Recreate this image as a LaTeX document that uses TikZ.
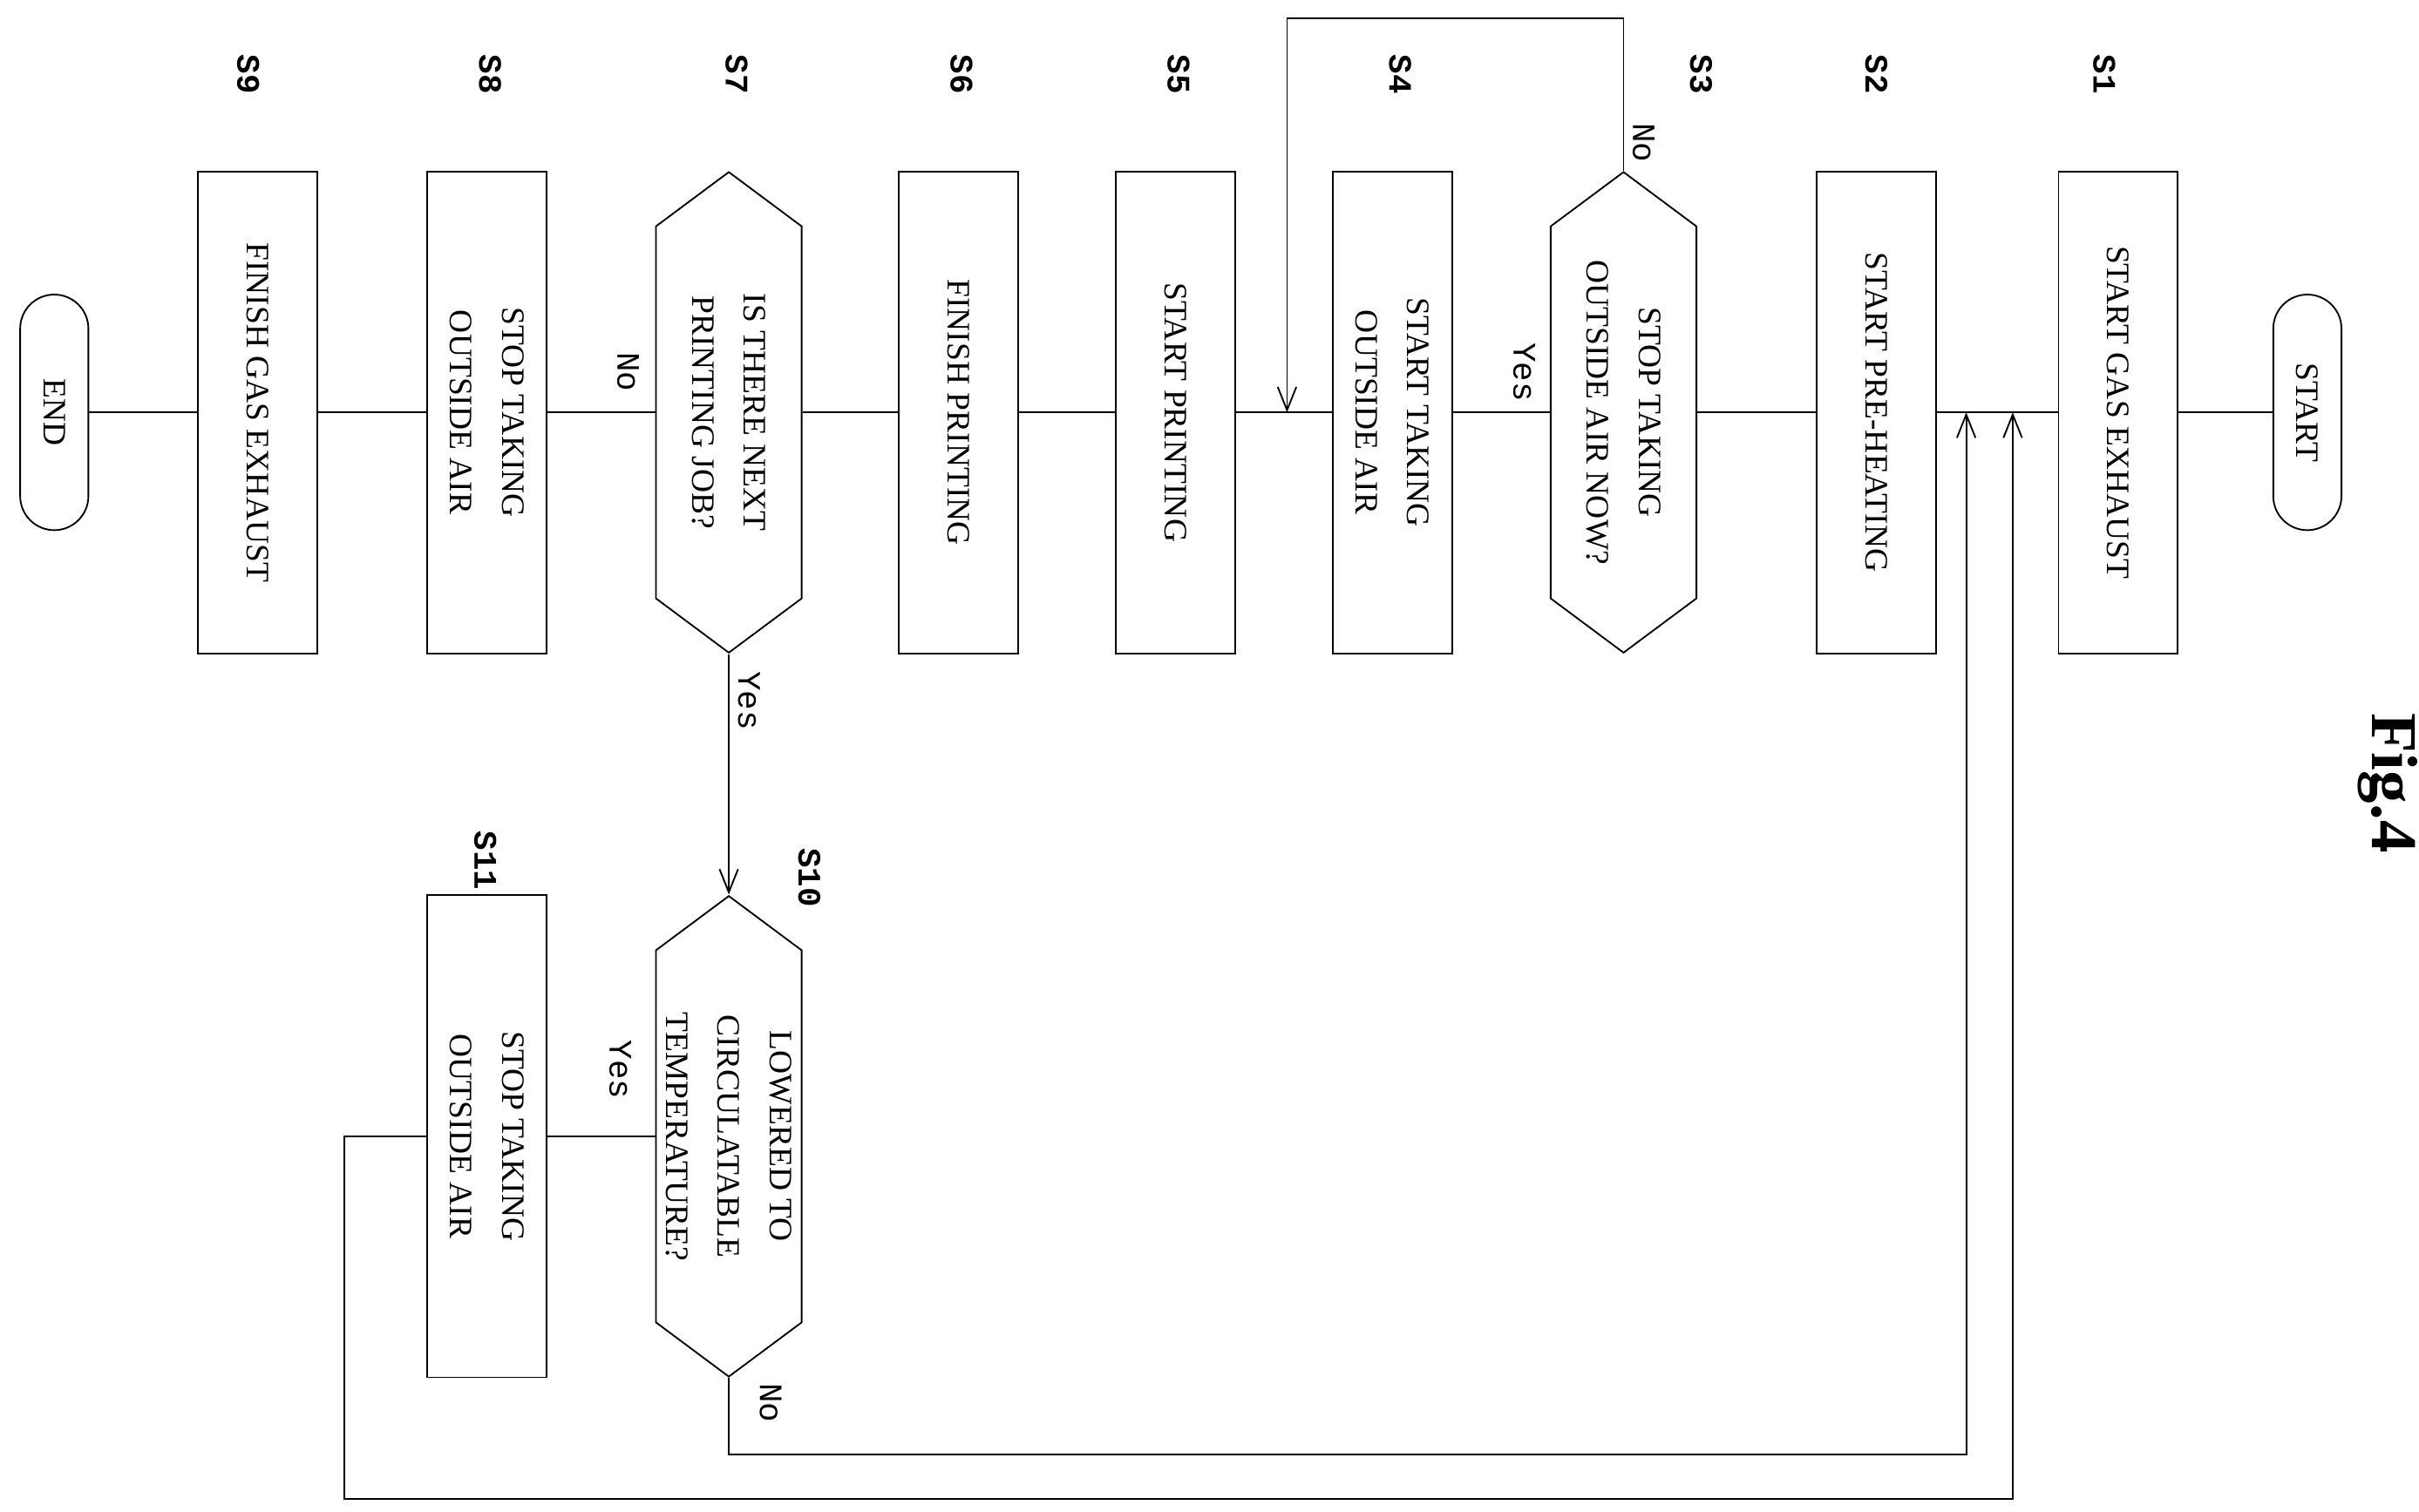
\documentclass[tikz,border=0pt]{standalone}
\usepackage{fontspec}
\setmainfont{Liberation Serif}
\setmonofont{Liberation Mono}
\usetikzlibrary{positioning,arrows.meta}
\tikzset{
  every node/.style={inner sep=0pt},
  box/.style={draw, rotate=-90, minimum width=6.22cm, minimum height=1.54cm,
    align=center, font=\fontsize{12}{19}\selectfont},
  choice/.style={rotate=-90, minimum width=6.22cm, minimum height=1.88cm,
    align=center, font=\fontsize{12}{19}\selectfont},
  term/.style={draw, rotate=-90, rounded corners=0.44cm, minimum width=3.04cm,
    minimum height=0.88cm, font=\fontsize{12}{14}\selectfont},
  tag/.style={rotate=-90, font=\ttfamily\bfseries\fontsize{12}{14}\selectfont},
  flow/.style={-{Straight Barb[length=3mm,width=2.4mm]}},
}
\newcommand{\hexa}[1]{%
  \draw ([shift={(0,-155)}]#1.center) -- ([shift={(47,-120)}]#1.center)
    -- ([shift={(47,120)}]#1.center) -- ([shift={(0,155)}]#1.center)
    -- ([shift={(-47,120)}]#1.center) -- ([shift={(-47,-120)}]#1.center) -- cycle;}
\begin{document}
\begin{tikzpicture}[x=0.02cm,y=-0.02cm, line width=0.6pt]
\useasboundingbox (0,0) rectangle (1560,975);
% main row
\node[term] (start) at (1488,266) {START};
\node[box] (s1) at (1366,266) {START GAS EXHAUST};
\node[box] (s2) at (1210,266) {START PRE-HEATING};
\node[choice] (s3) at (1047,266) {STOP TAKING\\OUTSIDE AIR NOW?};
\hexa{s3}
\node[box] (s4) at (898,266) {START TAKING\\OUTSIDE AIR};
\node[box] (s5) at (758,266) {START PRINTING};
\node[box] (s6) at (618,266) {FINISH PRINTING};
\node[choice] (s7) at (470,266) {IS THERE NEXT\\PRINTING JOB?};
\hexa{s7}
\node[box] (s8) at (314,266) {STOP TAKING\\OUTSIDE AIR};
\node[box] (s9) at (166,266) {FINISH GAS EXHAUST};
\node[term] (end) at (35,266) {END};
% lower row
\node[choice] (s10) at (470,733) {LOWERED TO\\CIRCULATABLE\\TEMPERATURE?};
\hexa{s10}
\node[box] (s11) at (314,733) {STOP TAKING\\OUTSIDE AIR};
% step tags
\foreach \n/\x in {1/1357,2/1210,3/1097,4/903,5/760,6/620,7/475,8/316,9/160}
  \node[tag] (t\n) at (\x,48) {S\n};
\node[tag] (t10) at (522,566) {S10};
\node[tag] (t11) at (313,555) {S11};
\node[rotate=-90, font=\bfseries\fontsize{24}{28}\selectfont] (fig) at (1540,505) {Fig.4};
% joints
\coordinate (j1) at (1268,266);
\coordinate (j2) at (1298,266);
\coordinate (j3) at (830,266);
% connectors
\draw (start) -- (s1);
\draw (s1) -- (s2);
\draw (s2) -- (s3);
\draw (s3) -- (s4);
\draw (s4) -- (s5);
\draw (s5) -- (s6);
\draw (s6) -- (s7);
\draw (s7) -- (s8);
\draw (s8) -- (s9);
\draw (s9) -- (end);
\draw[flow] (s3.west) -- (1047,12) -- (830,12) -- (j3);
\draw[flow] (s7.east) -- (s10.west);
\draw (s10) -- (s11);
\draw[flow] (s10.east) -- (470,938) -- (1268,938) -- (j1);
\draw[flow] (s11.south) -- (222,733) -- (222,967) -- (1298,967) -- (j2);
% branch labels
\foreach \x/\y/\t in {1060/92/No,983/240/Yes,405/240/No,483/452/Yes,400/690/Yes,497/905/No}
  \node[tag, font=\ttfamily\fontsize{12}{14}\selectfont] at (\x,\y) {\t};
\end{tikzpicture}
\end{document}
